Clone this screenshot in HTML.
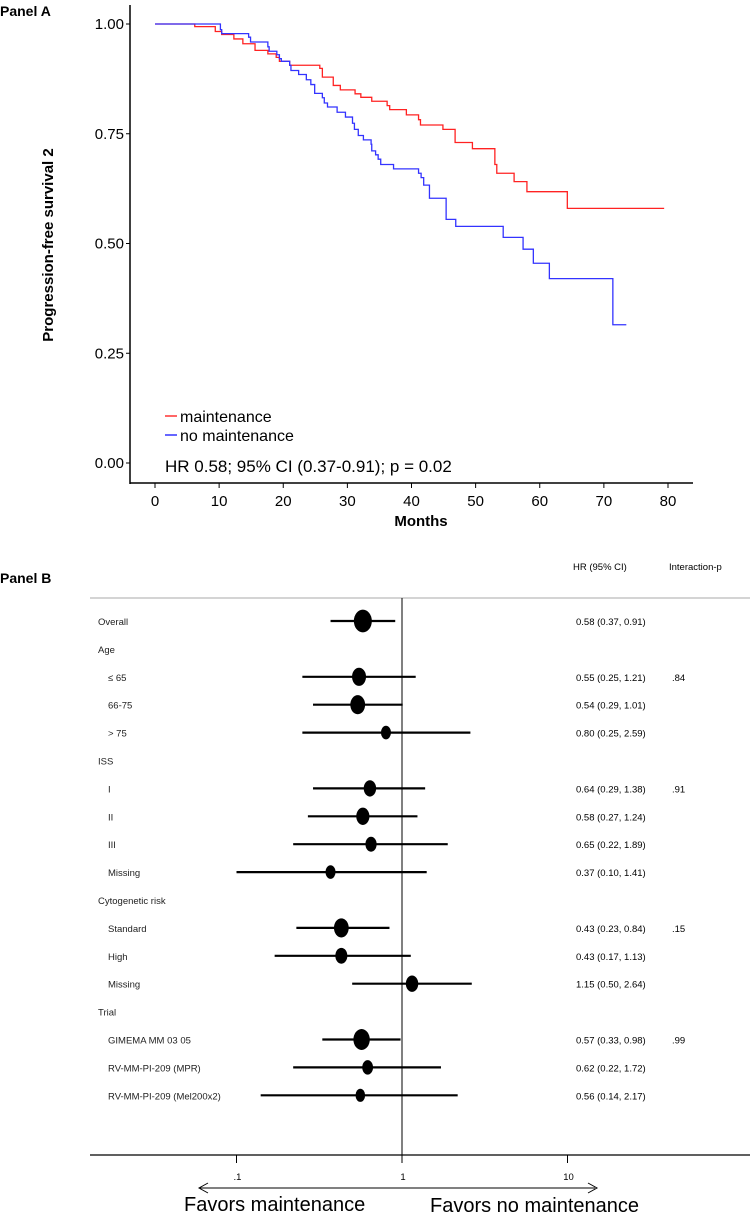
<!DOCTYPE html>
<html><head><meta charset="utf-8"><style>
html,body{margin:0;padding:0;background:#fff;}
svg{display:block;font-family:"Liberation Sans",sans-serif;}
</style></head><body>
<svg id="fig" width="750" height="1214" viewBox="0 0 750 1214" xmlns="http://www.w3.org/2000/svg">
<g id="panelA">
<text x="0" y="16" font-size="14" font-weight="bold">Panel A</text>
<line x1="130" y1="5" x2="130" y2="484" stroke="#000" stroke-width="1.5"/>
<line x1="130" y1="483" x2="693" y2="483" stroke="#000" stroke-width="1.5"/>
<g id="aTicks"></g>
<text transform="translate(53,245) rotate(-90)" text-anchor="middle" font-size="15" font-weight="bold">Progression-free survival 2</text>
<text x="421" y="526" text-anchor="middle" font-size="15" font-weight="bold">Months</text>
<g id="aCurves"></g>
<line x1="165" y1="416" x2="177" y2="416" stroke="#f00" stroke-width="1.2"/>
<text x="180" y="422" font-size="16">maintenance</text>
<line x1="165" y1="435" x2="177" y2="435" stroke="#00f" stroke-width="1.2"/>
<text x="180" y="441" font-size="16">no maintenance</text>
<text x="165" y="472" font-size="17">HR 0.58; 95% CI (0.37-0.91); p = 0.02</text>
</g>
<g id="panelB">
<text x="0" y="583" font-size="14" font-weight="bold">Panel B</text>
<text x="573" y="570" font-size="9.5">HR (95% CI)</text>
<text x="669" y="570" font-size="9.5">Interaction-p</text>
<line x1="90" y1="598" x2="750" y2="598" stroke="#bbb" stroke-width="1.2"/>
<line x1="90" y1="1155" x2="750" y2="1155" stroke="#000" stroke-width="1.2"/>
<line x1="402" y1="598" x2="402" y2="1155" stroke="#000" stroke-width="1"/>
<g id="bRows"></g>
<g id="bTicks"></g>
<line x1="200" y1="1188" x2="595" y2="1188" stroke="#000" stroke-width="1"/>
<polyline points="208,1183 199,1188 208,1193" fill="none" stroke="#000" stroke-width="1"/>
<polyline points="588,1183 597,1188 588,1193" fill="none" stroke="#000" stroke-width="1"/>
<text x="184" y="1211" font-size="20">Favors maintenance</text>
<text x="430" y="1212" font-size="20">Favors no maintenance</text>
</g>
</svg>
<script>
const NS="http://www.w3.org/2000/svg";
const redT=[0,6.2,9.4,10.4,12.3,13.7,15.6,17.6,18.9,19.4,21.0,25.7,26.1,27.8,28.9,31.2,32.1,33.8,36.2,36.6,39.2,41.1,41.4,44.9,46.8,49.5,53.0,53.3,56.0,58.0,64.3,79.4];
const redS=[1,0.994,0.983,0.976,0.966,0.955,0.940,0.932,0.924,0.915,0.906,0.899,0.879,0.860,0.850,0.841,0.833,0.824,0.814,0.805,0.793,0.782,0.770,0.760,0.730,0.716,0.680,0.660,0.641,0.618,0.580,0.580];
const blueT=[0,10.2,10.4,14.6,14.9,17.6,17.8,19.0,19.4,19.7,21.0,21.2,22.4,23.6,24.3,24.9,26.1,26.4,26.9,28.4,29.7,30.8,31.1,31.7,32.5,33.7,33.8,34.4,34.8,35.2,37.2,41.1,41.5,41.9,42.8,45.4,46.9,54.3,57.4,59.0,61.5,71.4,73.5];
const blueS=[1,0.987,0.978,0.970,0.959,0.948,0.938,0.930,0.921,0.915,0.906,0.894,0.885,0.873,0.862,0.842,0.832,0.820,0.811,0.799,0.788,0.774,0.760,0.746,0.736,0.726,0.711,0.702,0.692,0.680,0.670,0.660,0.650,0.633,0.603,0.555,0.539,0.514,0.487,0.455,0.420,0.315,0.315];
const xTicksA=[0,10,20,30,40,50,60,70,80];
const yTicksA=[0,0.25,0.5,0.75,1];
const rowLabels=["Overall","Age","≤ 65","66-75","> 75","ISS","I","II","III","Missing","Cytogenetic risk","Standard","High","Missing","Trial","GIMEMA MM 03 05","RV-MM-PI-209 (MPR)","RV-MM-PI-209 (Mel200x2)"];
const rowHR=[0.58,null,0.55,0.54,0.80,null,0.64,0.58,0.65,0.37,null,0.43,0.43,1.15,null,0.57,0.62,0.56];
const rowLo=[0.37,null,0.25,0.29,0.25,null,0.29,0.27,0.22,0.10,null,0.23,0.17,0.50,null,0.33,0.22,0.14];
const rowHi=[0.91,null,1.21,1.01,2.59,null,1.38,1.24,1.89,1.41,null,0.84,1.13,2.64,null,0.98,1.72,2.17];
const rowWeight=[3,null,2,2.2,1,null,1.6,1.8,1.3,1,null,2.2,1.5,1.6,null,2.6,1.2,0.9];
const rowP=[null,null,".84",null,null,null,".91",null,null,null,null,".15",null,null,null,".99",null,null];
const xTicksB=[0.1,1,10];
const xTickLabB=[".1","1","10"];
const xA=m=>155+m*6.4125, yA=s=>463-s*439;
const xB=v=>402+Math.log10(v)*165.5, yB=i=>621+i*27.9;
function mk(tag,attrs,parent){const e=document.createElementNS(NS,tag);for(const k in attrs)e.setAttribute(k,attrs[k]);parent.appendChild(e);return e;}
const aT=document.getElementById('aTicks');
xTicksA.forEach(t=>{
 const l=mk('line',{x1:xA(t),x2:xA(t),y1:483,y2:488,stroke:'#000'},aT);
 
 
 const tx=mk('text',{x:xA(t),y:506,'text-anchor':'middle','font-size':15},aT);tx.textContent=t;
 
 
});
yTicksA.forEach(t=>{
 const l=mk('line',{x1:126,x2:130,y1:yA(t),y2:yA(t),stroke:'#000'},aT);
 
 
 const tx=mk('text',{x:124,y:yA(t)+5,'text-anchor':'end','font-size':15},aT);tx.textContent=t.toFixed(2);
 
 
});
function stepPath(T,S){let d=`M${xA(T[0])},${yA(S[0])}`;for(let i=1;i<T.length;i++){d+=` H${xA(T[i])} V${yA(S[i])}`;}return d;}
const aC=document.getElementById('aCurves');
const pr=mk('path',{d:stepPath(redT,redS),fill:'none',stroke:'#f22','stroke-width':1.3},aC);


const pb=mk('path',{d:stepPath(blueT,blueS),fill:'none',stroke:'#33f','stroke-width':1.3},aC);


const bR=document.getElementById('bRows');
const headers=[0,1,5,10,14];
rowLabels.forEach((lab,i)=>{
 const y=yB(i);
 const isHead=[1,5,10,14].includes(i)||i===0;
 const t=mk('text',{x:isHead?98:108,y:y+4,'font-size':9.5,fill:'#222'},bR);t.textContent=lab;
 
 
 if(rowHR[i]!==null){
  const ci=mk('line',{x1:xB(rowLo[i]),x2:xB(rowHi[i]),y1:y,y2:y,stroke:'#000','stroke-width':2.2},bR);
  
  
  const w=rowWeight[i];
  const el=mk('ellipse',{cx:xB(rowHR[i]),cy:y,rx:3+w*2,ry:4.5+w*2.3,fill:'#000'},bR);
  
  
  const ht=mk('text',{x:576,y:y+4,'font-size':9.5},bR);
  ht.textContent=`${rowHR[i].toFixed(2)} (${rowLo[i].toFixed(2)}, ${rowHi[i].toFixed(2)})`;
  
  
 }
 if(rowP[i]){
  const pt=mk('text',{x:672,y:y+4,'font-size':9.5},bR);pt.textContent=rowP[i];
  
  
 }
});
const bT=document.getElementById('bTicks');
xTicksB.forEach((v,i)=>{
 const l=mk('line',{x1:xB(v),x2:xB(v),y1:1155,y2:1163,stroke:'#000'},bT);
 
 
 const tx=mk('text',{x:xB(v)+1,y:1180,'text-anchor':'middle','font-size':9.5},bT);tx.textContent=xTickLabB[i];
 
 
});
</script>
</body></html>
